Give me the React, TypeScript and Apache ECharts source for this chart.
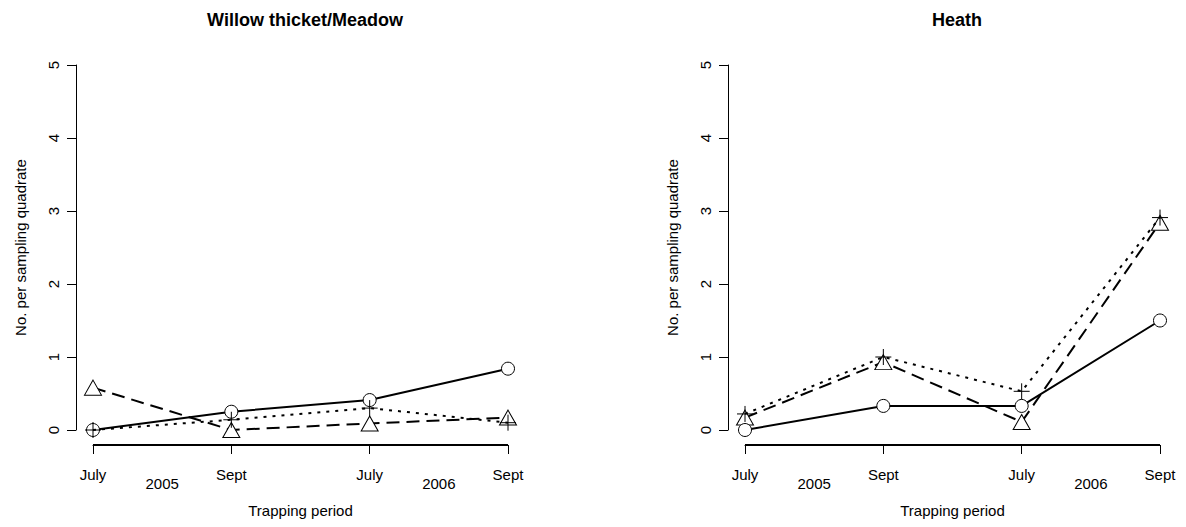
import React, { useEffect, useRef } from "react";
import * as echarts from "echarts";

const periods = ["July", "Sept", "July", "Sept"];
const years = ["2005", "2006"];
const panelTitles = ["Willow thicket/Meadow", "Heath"];

// Willow thicket/Meadow
const willowCircle = [0, 0.25, 0.41, 0.84];
const willowPlus = [0, 0.14, 0.3, 0.1];
const willowTriangle = [0.58, 0.0, 0.09, 0.17];

// Heath
const heathCircle = [0, 0.33, 0.33, 1.5];
const heathPlus = [0.22, 1.0, 0.53, 2.91];
const heathTriangle = [0.17, 0.93, 0.11, 2.84];

const yTicks = [0, 5, 1];

const FONT = "'Liberation Sans', Arial, Helvetica, sans-serif";
const PLUS = "path://M5,0 L5,10 M0,5 L10,5";
const W = 1186;
const H = 527;
const X_OFFSET = 15;

export default function App() {
  const ref = useRef<HTMLDivElement>(null);
  useEffect(() => {
    document.body.style.margin = "0";
    if (!ref.current) return;
    const chart = echarts.init(ref.current, null, { renderer: "svg" });
    const grids = [
      { left: 93, right: 678, top: 65, bottom: 97 },
      { left: 745, right: 26, top: 65, bottom: 97 },
    ];
    const panels = [
      [willowCircle, willowPlus, willowTriangle],
      [heathCircle, heathPlus, heathTriangle],
    ];
    const xAxes: any[] = [];
    const yAxes: any[] = [];
    const series: any[] = [];
    panels.forEach((p, i) => {
      xAxes.push({
        type: "category",
        gridIndex: i,
        data: periods,
        boundaryGap: false,
        position: "bottom",
        offset: X_OFFSET,
        axisLine: { show: true, onZero: false, lineStyle: { color: "#000", width: 1 } },
        axisTick: { show: true, length: 9, lineStyle: { color: "#000" } },
        axisLabel: { color: "#000", fontSize: 15, fontFamily: FONT, margin: 22 },
        splitLine: { show: false },
        name: "Trapping period",
        nameLocation: "middle",
        nameGap: 58,
        nameTextStyle: { color: "#000", fontSize: 15, fontFamily: FONT },
      });
      xAxes.push({
        type: "value",
        gridIndex: i,
        min: 0,
        max: 3,
        position: "bottom",
        offset: X_OFFSET,
        axisLine: { show: false, onZero: false },
        axisTick: { show: false },
        splitLine: { show: false },
        axisLabel: {
          color: "#000",
          fontSize: 15,
          fontFamily: FONT,
          margin: 31,
          customValues: [0.5, 2.5],
          formatter: (v: number) => years[Math.floor(v / 2)],
        },
      });
      yAxes.push({
        type: "value",
        gridIndex: i,
        min: yTicks[0],
        max: yTicks[1],
        interval: yTicks[2],
        offset: 17,
        axisLine: { show: true, onZero: false, lineStyle: { color: "#000", width: 1 } },
        axisTick: { show: true, length: 9, lineStyle: { color: "#000" } },
        axisLabel: { color: "#000", fontSize: 15, fontFamily: FONT, rotate: 90, margin: 15 },
        splitLine: { show: false },
        name: "No. per sampling quadrate",
        nameLocation: "middle",
        nameGap: 48,
        nameRotate: 90,
        nameTextStyle: { color: "#000", fontSize: 15, fontFamily: FONT },
      });
      const xi = i * 2;
      series.push({
        type: "line",
        xAxisIndex: xi,
        yAxisIndex: i,
        data: p[0],
        symbol: "circle",
        symbolSize: 13,
        lineStyle: { color: "#000", width: 2, type: "solid" },
        itemStyle: { color: "#fff", borderColor: "#000", borderWidth: 1 },
        z: 3,
      });
      series.push({
        type: "line",
        xAxisIndex: xi,
        yAxisIndex: i,
        data: p[1],
        symbol: PLUS,
        symbolSize: 16,
        lineStyle: { color: "#000", width: 2, type: [3, 6] },
        itemStyle: { color: "none", borderColor: "#000", borderWidth: 1 },
        z: 4,
      });
      series.push({
        type: "line",
        xAxisIndex: xi,
        yAxisIndex: i,
        data: p[2],
        symbol: "triangle",
        symbolSize: [17, 15],
        lineStyle: { color: "#000", width: 2, type: [13, 7] },
        itemStyle: { color: "#fff", borderColor: "#000", borderWidth: 1 },
        z: 2,
      });
    });
    // R-style x axis lines along the offset axis position
    const axisRects = grids.map((g) => ({
      type: "rect",
      shape: {
        x: g.left,
        y: H - g.bottom + X_OFFSET - 1,
        width: W - g.left - g.right,
        height: 2,
      },
      style: { fill: "#000" },
      z: 100,
    }));
    chart.setOption({
      animation: false,
      backgroundColor: "#fff",
      title: panelTitles.map((t, i) => ({
        text: t,
        left: i === 0 ? 300 : 952,
        textAlign: "center",
        top: 6,
        textStyle: { color: "#000", fontSize: 18, fontWeight: "bold", fontFamily: FONT },
      })),
      grid: grids,
      xAxis: xAxes,
      yAxis: yAxes,
      series,
      graphic: axisRects,
    });
    return () => chart.dispose();
  }, []);
  return <div ref={ref} style={{ width: W, height: H }} />;
}
